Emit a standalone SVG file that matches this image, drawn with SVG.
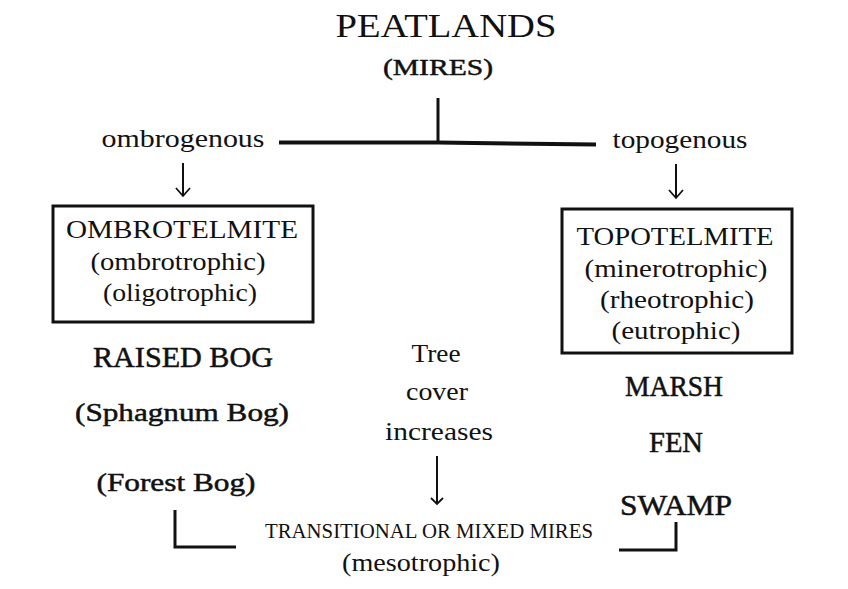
<svg xmlns="http://www.w3.org/2000/svg" width="848" height="589" viewBox="0 0 848 589">
<style>
text{font-family:"Liberation Serif","DejaVu Serif",serif;fill:#111;text-anchor:middle}
.b{stroke:#111;stroke-width:0.5}
.ln{stroke:#111;fill:none;stroke-linecap:butt}
.box{fill:none;stroke:#111;stroke-width:3}
.ar{stroke:#111;stroke-width:2;fill:none}
.ah{stroke:#111;stroke-width:1.8;fill:none;stroke-linejoin:miter}
</style>
<rect width="848" height="589" fill="#fff"/>
<g id="peatlands">
<text x="446" y="37" font-size="33" textLength="221" lengthAdjust="spacingAndGlyphs">PEATLANDS</text>
<text x="438" y="75" font-size="24" class="b" textLength="110" lengthAdjust="spacingAndGlyphs">(MIRES)</text>
</g>
<g id="ombrogenous"><text x="183" y="147" font-size="26" textLength="163" lengthAdjust="spacingAndGlyphs">ombrogenous</text></g>
<g id="topogenous"><text x="680" y="148" font-size="26" textLength="135" lengthAdjust="spacingAndGlyphs">topogenous</text></g>
<g id="ombrotelmite">
<rect class="box" x="53" y="206" width="260" height="116"/>
<text x="182" y="238" font-size="26" textLength="232" lengthAdjust="spacingAndGlyphs">OMBROTELMITE</text>
<text x="178" y="270" font-size="25" textLength="175" lengthAdjust="spacingAndGlyphs">(ombrotrophic)</text>
<text x="180" y="301" font-size="25" textLength="154" lengthAdjust="spacingAndGlyphs">(oligotrophic)</text>
</g>
<g id="topotelmite">
<rect class="box" x="562" y="209" width="230" height="144"/>
<text x="675" y="245" font-size="26" textLength="197" lengthAdjust="spacingAndGlyphs">TOPOTELMITE</text>
<text x="676" y="277" font-size="25" textLength="183" lengthAdjust="spacingAndGlyphs">(minerotrophic)</text>
<text x="677" y="308" font-size="25" textLength="154" lengthAdjust="spacingAndGlyphs">(rheotrophic)</text>
<text x="676" y="339" font-size="25" textLength="129" lengthAdjust="spacingAndGlyphs">(eutrophic)</text>
</g>
<g id="bogs">
<text x="183" y="367" font-size="29" class="b" textLength="180" lengthAdjust="spacingAndGlyphs">RAISED  BOG</text>
<text x="182" y="421" font-size="26" class="b" textLength="214" lengthAdjust="spacingAndGlyphs">(Sphagnum Bog)</text>
<text x="176" y="491" font-size="26" class="b" textLength="159" lengthAdjust="spacingAndGlyphs">(Forest Bog)</text>
</g>
<g id="tree-cover">
<text x="436" y="362" font-size="26" textLength="49" lengthAdjust="spacingAndGlyphs">Tree</text>
<text x="437" y="400" font-size="26" textLength="62" lengthAdjust="spacingAndGlyphs">cover</text>
<text x="439" y="440" font-size="26" textLength="108" lengthAdjust="spacingAndGlyphs">increases</text>
</g>
<g id="fens">
<text x="674" y="396" font-size="29" class="b" textLength="98" lengthAdjust="spacingAndGlyphs">MARSH</text>
<text x="676" y="452" font-size="29" class="b" textLength="54" lengthAdjust="spacingAndGlyphs">FEN</text>
<text x="676" y="515" font-size="29" class="b" textLength="112" lengthAdjust="spacingAndGlyphs">SWAMP</text>
</g>
<g id="transitional">
<text x="429" y="538" font-size="21" textLength="328" lengthAdjust="spacingAndGlyphs">TRANSITIONAL OR MIXED MIRES</text>
<text x="421" y="571" font-size="26" textLength="158" lengthAdjust="spacingAndGlyphs">(mesotrophic)</text>
</g>
<g id="connectors">
<line class="ln" x1="438" y1="98" x2="438" y2="142" stroke-width="3"/>
<path class="ln" d="M279,142.5 L438,142.5 L596,144.5" stroke-width="4"/>
<line class="ar" x1="183" y1="163" x2="183" y2="195"/>
<path class="ah" d="M176,188 L183,196 L190,188"/>
<line class="ar" x1="676" y1="164" x2="676" y2="197"/>
<path class="ah" d="M669,190 L676,198 L683,190"/>
<line class="ar" x1="437" y1="456" x2="437" y2="503"/>
<path class="ah" d="M431,498 L437,504 L443,498"/>
<path class="ln" d="M175,510 L175,547 L236,547" stroke-width="3"/>
<path class="ln" d="M676,522 L676,550 L619,550" stroke-width="3"/>
</g>
</svg>
